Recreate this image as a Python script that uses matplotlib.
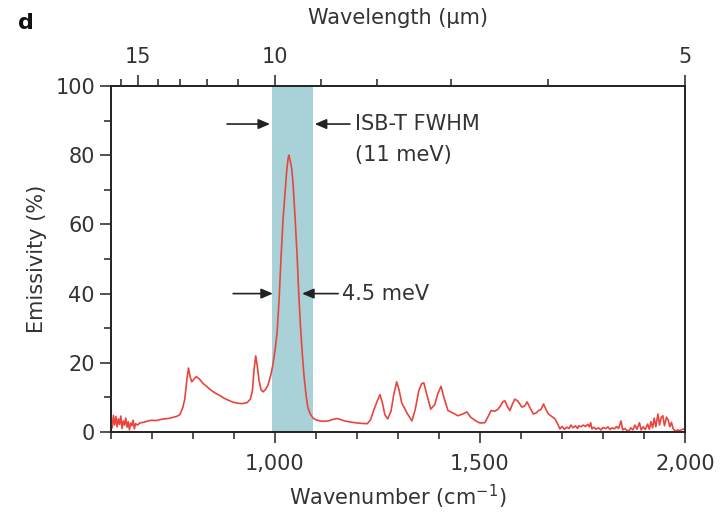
import numpy as np
import matplotlib
matplotlib.use('Agg')
import matplotlib.pyplot as plt
from matplotlib.ticker import MultipleLocator, FixedLocator

plt.rcParams['font.family'] = ['DejaVu Sans']

# emissivity spectrum
wavenumber = [600, 603, 606, 609, 612, 615, 618, 621, 624, 627, 630, 633, 636, 639, 642, 645, 648, 651,
              654, 657, 660, 665, 670, 680, 690, 700, 710, 720, 730, 740, 750, 760, 768, 775, 780, 785,
              789, 793, 797, 802, 808, 815, 825, 835, 845, 855, 866, 877, 888, 898, 910, 920, 932, 940,
              945, 949, 953, 957, 961, 966, 971, 977, 983, 990, 995, 1000, 1005, 1010, 1015, 1020, 1025,
              1029, 1032, 1034, 1037, 1041, 1044, 1049, 1054, 1058, 1062, 1067, 1071, 1076, 1080, 1086,
              1093, 1100, 1110, 1120, 1130, 1140, 1151, 1160, 1170, 1183, 1195, 1210, 1225, 1233, 1240,
              1248, 1256, 1262, 1268, 1275, 1283, 1290, 1297, 1303, 1309, 1314, 1322, 1334, 1342, 1351,
              1358, 1363, 1370, 1380, 1390, 1397, 1405, 1412, 1422, 1434, 1446, 1458, 1468, 1478, 1490,
              1500, 1512, 1520, 1527, 1536, 1544, 1550, 1556, 1561, 1567, 1573, 1579, 1585, 1592, 1602,
              1609, 1615, 1622, 1630, 1637, 1643, 1649, 1655, 1661, 1667, 1675, 1683, 1690, 1695, 1700,
              1706, 1712, 1717, 1722, 1727, 1733, 1738, 1741, 1746, 1752, 1757, 1763, 1767, 1770, 1773,
              1778, 1783, 1789, 1795, 1800, 1807, 1812, 1817, 1822, 1828, 1833, 1838, 1844, 1848, 1853,
              1858, 1863, 1868, 1873, 1878, 1883, 1889, 1893, 1898, 1903, 1909, 1913, 1917, 1921, 1925,
              1929, 1934, 1938, 1942, 1946, 1950, 1955, 1959, 1963, 1967, 1971, 1976, 1982, 1988, 1994,
              2000]
emissivity = [3.5, 1.2, 4.8, 2.0, 4.5, 1.5, 3.8, 2.2, 4.6, 1.0, 3.2, 2.0, 4.0, 1.4, 3.0, 0.6, 2.6, 1.8,
              3.4, 0.9, 2.4, 2.0, 2.6, 2.8, 3.2, 3.4, 3.3, 3.6, 3.8, 3.9, 4.2, 4.5, 5.0, 7.0, 9.5, 15.0,
              18.5, 16.0, 14.5, 15.2, 16.0, 15.4, 14.0, 13.0, 12.0, 11.2, 10.5, 9.7, 9.1, 8.6, 8.3, 8.2,
              8.5, 9.5, 12.0, 18.0, 22.0, 19.0, 15.0, 12.2, 11.6, 12.3, 13.6, 16.5, 19.5, 23.5, 28.5, 38.0,
              51.0, 62.0, 70.0, 76.0, 79.0, 80.0, 78.5, 76.0, 72.0, 62.0, 51.0, 40.0, 31.0, 22.0, 16.0,
              10.5, 7.2, 5.2, 4.0, 3.5, 3.2, 3.1, 3.2, 3.6, 3.9, 3.6, 3.2, 2.9, 2.7, 2.5, 2.4, 3.5, 6.0,
              8.5, 10.8, 8.5, 5.0, 3.8, 6.0, 11.0, 14.5, 12.0, 8.5, 7.3, 5.5, 3.2, 6.5, 12.0, 14.0, 14.2,
              11.0, 6.6, 8.0, 11.0, 13.2, 10.0, 6.2, 5.5, 4.7, 5.2, 5.8, 4.2, 3.2, 2.6, 2.7, 4.5, 6.2,
              6.0, 6.6, 7.5, 8.8, 9.0, 7.3, 6.2, 8.0, 9.5, 9.0, 7.2, 7.5, 8.7, 7.0, 5.2, 5.5, 6.2, 6.5,
              8.1, 6.5, 5.2, 4.5, 3.8, 2.2, 0.9, 1.6, 0.8, 1.4, 1.0, 2.0, 1.2, 1.8, 1.0, 1.8, 1.5, 2.0,
              1.6, 2.2, 1.5, 2.7, 0.9, 1.4, 0.8, 1.2, 0.6, 1.3, 1.0, 1.5, 0.7, 1.2, 0.9, 1.6, 1.0, 3.2,
              0.6, 1.0, 0.5, 0.3, 1.2, 0.6, 2.0, 0.8, 2.7, 0.6, 1.5, 0.7, 2.3, 0.8, 3.0, 1.2, 4.0, 1.5,
              5.2, 2.0, 4.2, 4.7, 1.8, 4.3, 3.5, 1.5, 2.8, 1.0, 0.3, 0.6, 0.4, 0.8, 0.8]

band = (993, 1093)   # ISB-T FWHM shaded band
wl_major = [15, 10, 5]
wl_minor = [16, 14, 13, 12, 11, 9, 8, 7, 6]

ink = '#333333'

fig = plt.figure(figsize=(7.22, 5.17), dpi=100)
ax = fig.add_axes([0.1537, 0.1644, 0.795, 0.6693])

ax.axvspan(band[0], band[1], color='#a8d2d8', lw=0, zorder=1)
ax.plot(wavenumber, emissivity, color='#e8453e', lw=1.2, zorder=3)

ax.set_xlim(600, 2000)
ax.set_ylim(0, 100)
ax.xaxis.set_major_locator(FixedLocator([1000, 1500, 2000]))
ax.xaxis.set_minor_locator(MultipleLocator(100))
ax.set_xticklabels(['1,000', '1,500', '2,000'])
ax.yaxis.set_major_locator(MultipleLocator(20))
ax.yaxis.set_minor_locator(MultipleLocator(10))

for s in ax.spines.values():
    s.set_linewidth(1.2)
    s.set_color('#222222')
ax.tick_params(which='both', direction='out', color='#222222', width=1.1, labelsize=15, labelcolor=ink)
ax.tick_params(which='major', length=8)
ax.tick_params(which='minor', length=5)
ax.tick_params(axis='x', which='major', pad=8)

ax.set_xlabel('Wavenumber (cm$^{-1}$)', fontsize=15, color=ink, labelpad=6)
ax.set_ylabel('Emissivity (%)', fontsize=15, color=ink, labelpad=6)

# top axis in wavelength
top = ax.twiny()
top.set_xlim(ax.get_xlim())
top.set_xticks([1e4 / w for w in wl_major])
top.set_xticklabels([str(w) for w in wl_major])
top.set_xticks([1e4 / w for w in wl_minor], minor=True)
top.tick_params(which='both', direction='out', color='#222222', width=1.1, labelsize=15, labelcolor=ink)
top.tick_params(which='major', length=8, pad=6)
top.tick_params(which='minor', length=5)
top.set_xlabel('Wavelength (\u03bcm)', fontsize=15, color=ink, labelpad=16)
for s in top.spines.values():
    s.set_linewidth(1.2)
    s.set_color('#222222')

arrow = dict(arrowstyle='-|>,head_length=0.7,head_width=0.3', color='#222222', lw=1.2,
             shrinkA=0, shrinkB=0)
ax.annotate('', xy=(988, 89), xytext=(883, 89), arrowprops=arrow, zorder=4)
ax.annotate('', xy=(1097, 89), xytext=(1183, 89), arrowprops=arrow, zorder=4)
ax.annotate('', xy=(995, 40), xytext=(898, 40), arrowprops=arrow, zorder=4)
ax.annotate('', xy=(1066, 40), xytext=(1154, 40), arrowprops=arrow, zorder=4)

ax.text(1196, 89, 'ISB-T FWHM', fontsize=15, color=ink, va='center', ha='left')
ax.text(1196, 80, '(11 meV)', fontsize=15, color=ink, va='center', ha='left')
ax.text(1164, 40, '4.5 meV', fontsize=15, color=ink, va='center', ha='left')

fig.text(0.025, 0.955, 'd', fontsize=16, fontweight='bold', color='#111111', va='center')

fig.savefig('out.png', dpi=100)
